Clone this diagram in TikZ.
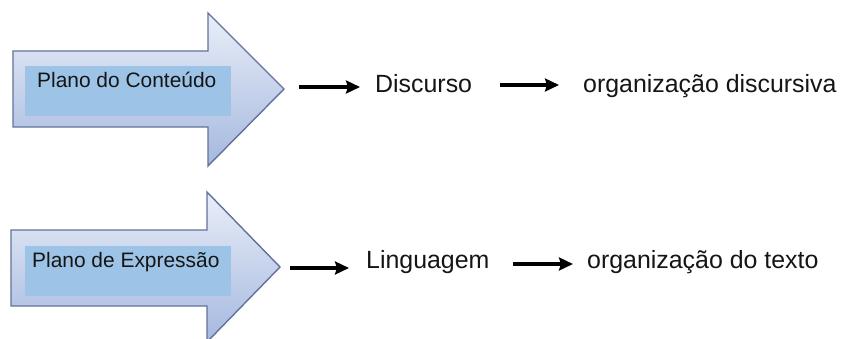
\documentclass[tikz,border=0pt]{standalone}
\usepackage{fontspec}
\setmainfont{Liberation Sans}
\usetikzlibrary{arrows.meta}
\definecolor{arrowtop}{HTML}{E9EEF8}
\definecolor{arrowbot}{HTML}{A5B8DF}
\definecolor{arrowedge}{HTML}{62729A}
\definecolor{labelfill}{HTML}{9DC3E6}
\definecolor{inktext}{HTML}{151515}
\tikzset{
  bigarrow/.style={draw=arrowedge, line width=1.4bp, top color=arrowtop, bottom color=arrowbot, line join=miter},
  labelbox/.style={fill=labelfill, draw=none},
  boxtext/.style={font=\fontsize{21}{24}\selectfont, text=inktext, inner sep=0pt, anchor=base west},
  term/.style={font=\fontsize{25}{28}\selectfont, text=inktext, inner sep=0pt, anchor=base west},
  conn/.style={line width=3.2bp, -{Stealth[length=14bp,width=13bp,inset=2bp]}}
}
\begin{document}
\begin{tikzpicture}[x=1bp,y=-1bp]
\useasboundingbox (0,0) rectangle (845,338);
\fill[white] (0,0) rectangle (845,338);

% upper block arrow
\path[bigarrow] (13,51) -- (208,51) -- (208,13) -- (284,89) -- (208,166) -- (208,127) -- (13,127) -- cycle;
\fill[labelbox] (25,66) rectangle (231,116);
\node[boxtext] (pc) at (37,87) {Plano do Conteúdo};
\coordinate (tipA) at (284,87);

% lower block arrow
\path[bigarrow] (11,230) -- (207,230) -- (207,192) -- (280,267) -- (207,342) -- (207,306) -- (11,306) -- cycle;
\fill[labelbox] (25,246) rectangle (231,296);
\node[boxtext] (pe) at (32,267) {Plano de Expressão};
\coordinate (tipB) at (280,268);

% terms of the upper row
\node[term] (disc) at (375,92) {Discurso};
\node[term] (orgd) at (583,92) {organização discursiva};

% terms of the lower row
\node[term] (ling) at (366,268) {Linguagem};
\node[term] (orgt) at (587,268) {organização do texto};

% connectors
\draw[conn, shorten <=15bp, shorten >=15bp] (tipA) -- (tipA -| disc.west);
\coordinate (dA) at (disc.east |- 0,85);
\draw[conn, shorten <=28bp, shorten >=24bp] (dA) -- (dA -| orgd.west);
\draw[conn, shorten <=10bp, shorten >=17bp] (tipB) -- (tipB -| ling.west);
\coordinate (dB) at (ling.east |- 0,264);
\draw[conn, shorten <=23bp, shorten >=14bp] (dB) -- (dB -| orgt.west);
\end{tikzpicture}
\end{document}
